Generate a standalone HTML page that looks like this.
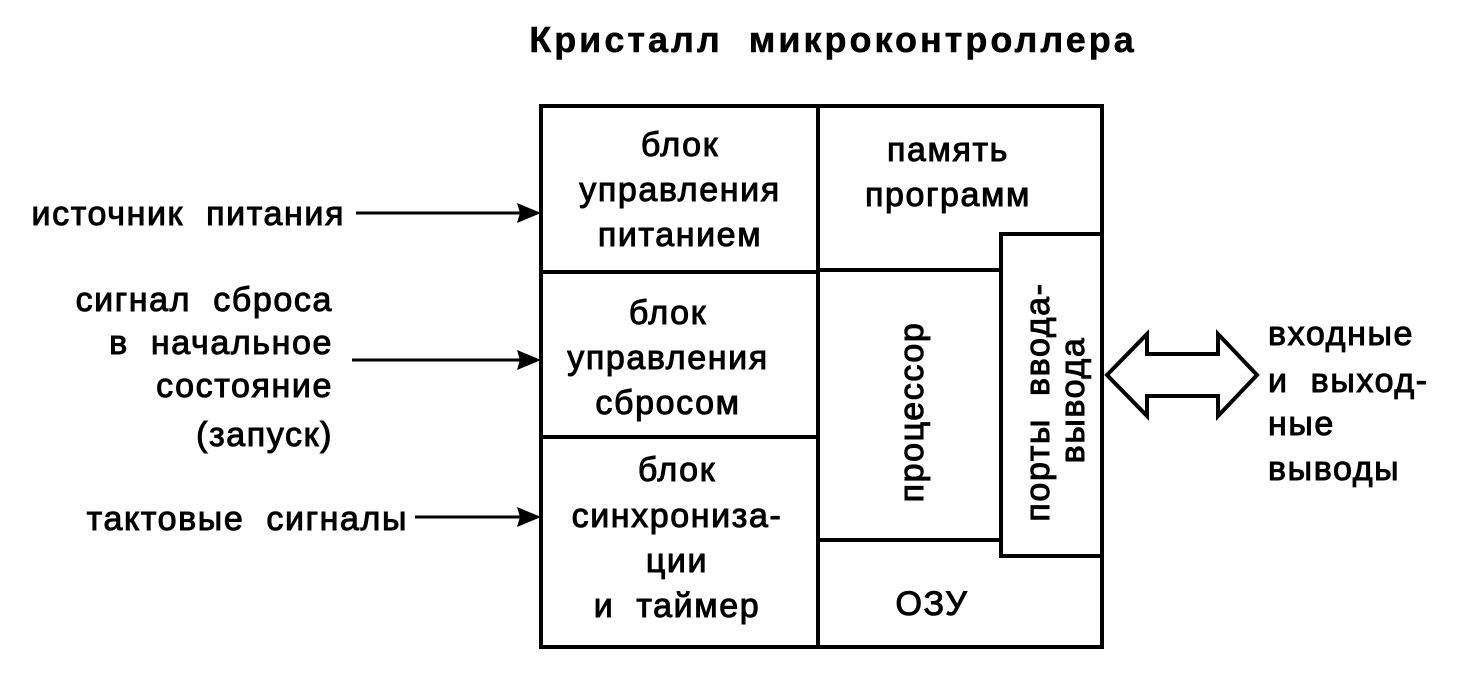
<!DOCTYPE html>
<html><head><meta charset="utf-8"><style>
html,body{margin:0;padding:0;background:#fff;}
svg text{font-family:"Liberation Sans",Arial,sans-serif;font-size:34px;letter-spacing:1.6px;fill:#000;stroke:#000;stroke-width:1px;white-space:pre;}
</style></head><body>
<svg width="1484" height="671" viewBox="0 0 1484 671" xmlns="http://www.w3.org/2000/svg" xml:space="preserve">
<text x="833" y="52" text-anchor="middle" style="font-weight:bold;font-size:36px;letter-spacing:3px;stroke-width:0.5px">Кристалл  микроконтроллера</text>
<g fill="none" stroke="#000" stroke-width="4">
<rect x="541" y="106" width="561" height="541"/>
<line x1="818" y1="106" x2="818" y2="647"/>
<line x1="541" y1="272" x2="818" y2="272"/>
<line x1="541" y1="437" x2="818" y2="437"/>
<line x1="818" y1="270" x2="1001" y2="270"/>
<line x1="818" y1="540" x2="1001" y2="540"/>
<rect x="1001" y="234" width="101" height="322"/>
<path d="M1107 375 L1147 334 L1147 354 L1218 354 L1218 334 L1257 375 L1218 416 L1218 396 L1147 396 L1147 416 Z" stroke-width="4" stroke-linejoin="miter"/>
<line x1="356" y1="213" x2="520" y2="213" stroke-width="3"/>
<line x1="352" y1="360" x2="520" y2="360" stroke-width="3"/>
<line x1="415" y1="517" x2="520" y2="517" stroke-width="3"/>
</g>
<g fill="#000">
<path d="M541 213 L517 203 L520 213 L517 223 Z"/>
<path d="M541 360 L517 350 L520 360 L517 370 Z"/>
<path d="M541 517 L517 507 L520 517 L517 527 Z"/>
</g>
<text x="345" y="225" text-anchor="end">источник  питания</text>
<text x="333" y="311" text-anchor="end">сигнал  сброса</text>
<text x="333" y="354" text-anchor="end">в  начальное</text>
<text x="333" y="397" text-anchor="end">состояние</text>
<text x="333" y="446" text-anchor="end">(запуск)</text>
<text x="408" y="530" text-anchor="end">тактовые  сигналы</text>
<g text-anchor="middle">
<text x="680" y="156">блок</text>
<text x="680" y="201">управления</text>
<text x="680" y="246">питанием</text>
<text x="668" y="324">блок</text>
<text x="668" y="369">управления</text>
<text x="668" y="414">сбросом</text>
<text x="677" y="481">блок</text>
<text x="677" y="527">синхрониза-</text>
<text x="677" y="572">ции</text>
<text x="677" y="617">и  таймер</text>
<text x="948" y="161">память</text>
<text x="948" y="206">программ</text>
<text x="932" y="615">ОЗУ</text>
<text transform="translate(923,412) rotate(-90)">процессор</text>
<text transform="translate(1049,402) rotate(-90)">порты  ввода-</text>
<text transform="translate(1084,400) rotate(-90)">вывода</text>
</g>
<text x="1268" y="345">входные</text>
<text x="1268" y="392">и  выход-</text>
<text x="1268" y="435">ные</text>
<text x="1268" y="480">выводы</text>
</svg>
</body></html>
